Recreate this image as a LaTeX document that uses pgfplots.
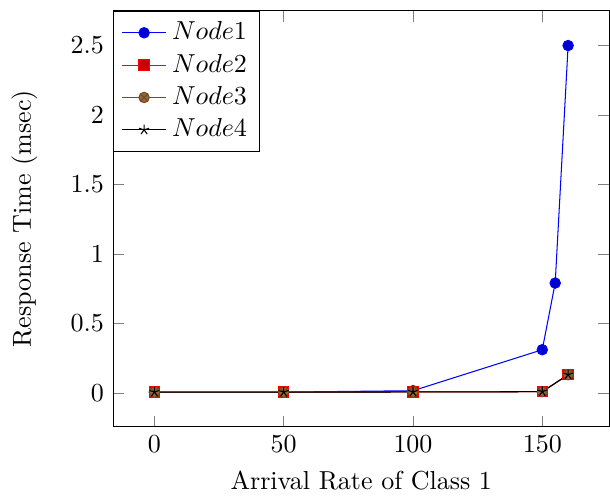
\documentclass[border=0pt]{standalone}
\usepackage{pgfplots}
\pgfplotsset{compat=1.18}
\begin{document}
\begin{tikzpicture}
\begin{axis}[
  width=236pt,
  height=205pt,
  xlabel={Arrival Rate of Class 1},
  ylabel={Response Time (msec)},
  ylabel shift=6pt,
  legend style={at={(0,1)}, anchor=north west},
]
\addplot coordinates {(0,0.005) (50,0.005) (100,0.015) (150,0.31) (155,0.79) (160,2.5)};
\addlegendentry{$Node1$}
\addplot coordinates {(0,0.005) (50,0.005) (100,0.006) (150,0.008) (160,0.13)};
\addlegendentry{$Node2$}
\addplot coordinates {(0,0.005) (50,0.005) (100,0.006) (150,0.008) (160,0.13)};
\addlegendentry{$Node3$}
\addplot coordinates {(0,0.005) (50,0.005) (100,0.006) (150,0.008) (160,0.13)};
\addlegendentry{$Node4$}
\end{axis}
% a little white margin around the figure
\path (current bounding box.north west) ++(-1pt,4pt);
\path (current bounding box.south west) ++(0pt,-2pt);
\end{tikzpicture}
\end{document}
